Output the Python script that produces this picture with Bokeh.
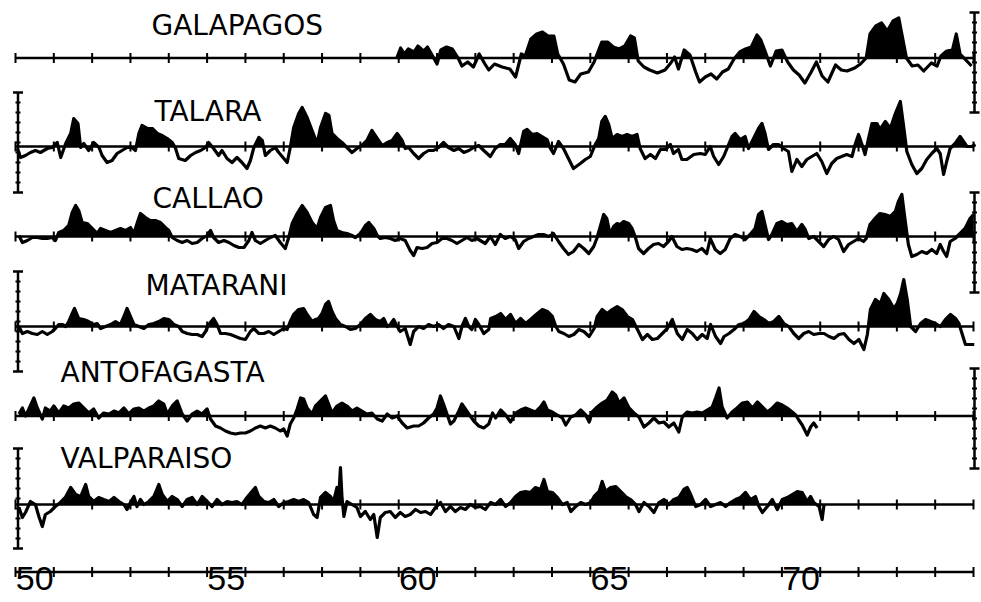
import numpy as np
from bokeh.plotting import figure
from bokeh.models import Range1d
from bokeh.core.properties import value
from bokeh.embed import file_html
from bokeh.resources import INLINE

# Monthly sea level anomalies (cm) along the west coast of South America,
# stored as (decimal year, anomaly) pairs.
GALAPAGOS = [
    (1959.95, 0), (1960.05, 5), (1960.15, 2), (1960.25, 4.5), (1960.4, 3), (1960.5, 6),
    (1960.65, 3.5), (1960.75, 5.5), (1960.9, 0.5), (1961.0, -3), (1961.1, 4), (1961.25, 5.5),
    (1961.4, 4.5), (1961.55, 0), (1961.65, -4), (1961.8, -2), (1961.95, -4.5), (1962.1, 2),
    (1962.25, -3), (1962.35, -6), (1962.5, -3), (1962.7, -4.5), (1962.9, -5.5), (1963.05, -9.5),
    (1963.2, 2), (1963.3, 1), (1963.45, 9.5), (1963.6, 12), (1963.75, 13), (1963.9, 11),
    (1964.05, 11), (1964.15, 2), (1964.3, -3), (1964.45, -11), (1964.6, -12), (1964.75, -8),
    (1964.95, -7), (1965.1, -2), (1965.2, 3), (1965.3, 8), (1965.45, 8), (1965.6, 5.5),
    (1965.75, 4.5), (1965.9, 6), (1966.05, 11), (1966.15, 10), (1966.25, -1.5), (1966.4, -4.5),
    (1966.55, -6), (1966.75, -7.5), (1966.95, -6), (1967.1, -2.5), (1967.2, 0.5), (1967.3, -5.5),
    (1967.45, 4), (1967.6, 1.5), (1967.75, -7), (1967.85, -12), (1968.0, -9.5), (1968.15, -8),
    (1968.3, -10.5), (1968.45, -7), (1968.6, -5.5), (1968.75, -0.5), (1968.9, 3), (1969.05, 4.5),
    (1969.2, 5.5), (1969.35, 11.5), (1969.45, 9), (1969.55, 4), (1969.7, -4), (1969.85, 3.5),
    (1970.0, 4), (1970.15, -2), (1970.3, -6), (1970.45, -8.5), (1970.6, -12.5), (1970.75, -7.5),
    (1970.9, -2), (1971.05, -9), (1971.2, -12), (1971.4, -3.5), (1971.55, -6), (1971.7, -6.5),
    (1971.9, -5), (1972.05, -3), (1972.2, 0), (1972.3, 12), (1972.45, 16), (1972.6, 17.5),
    (1972.75, 13.5), (1972.9, 18.5), (1973.05, 20), (1973.15, 10), (1973.25, 0), (1973.4, -4),
    (1973.55, -3.5), (1973.7, -6.5), (1973.9, -2.5), (1974.05, -4), (1974.15, 1), (1974.3, 3.5),
    (1974.45, 4), (1974.55, 12), (1974.65, 2), (1974.8, -1), (1974.95, -4),
]

TALARA = [
    (1950.05, -1), (1950.13, -5.5), (1950.26, -4.5), (1950.39, -3), (1950.52, -2), (1950.65, -3),
    (1950.83, -1), (1950.96, -0.5), (1951.09, 2), (1951.18, -5.5), (1951.31, 1.5), (1951.44, 6.5),
    (1951.52, 14), (1951.63, 11.5), (1951.7, -0.5), (1951.78, 1.5), (1951.91, -2), (1952.04, 2),
    (1952.18, -0.5), (1952.26, -4.5), (1952.39, -8), (1952.52, -7), (1952.65, -3.5), (1952.78, -2),
    (1952.91, -0.5), (1953.04, -0.5), (1953.13, -2), (1953.22, 6.5), (1953.3, 10.5), (1953.44, 9),
    (1953.57, 9), (1953.7, 6.5), (1953.83, 5.5), (1953.96, 4), (1954.09, 2), (1954.17, -0.5),
    (1954.26, -6), (1954.43, -7), (1954.57, -4.5), (1954.7, -3), (1954.83, -2), (1954.96, -0.5),
    (1955.04, 2), (1955.17, -1), (1955.3, -4.5), (1955.39, -2), (1955.52, -6), (1955.65, -8),
    (1955.78, -5.5), (1955.91, -8), (1956.04, -11), (1956.13, -7), (1956.22, -0.5), (1956.35, 4.5),
    (1956.44, 3), (1956.52, -4.5), (1956.65, -2), (1956.78, -0.5), (1956.87, -3), (1956.98, -5.5),
    (1957.09, -8), (1957.17, -0.5), (1957.26, 9.5), (1957.39, 16.5), (1957.48, 19.5), (1957.61, 14.5),
    (1957.74, 8), (1957.87, 1.5), (1957.96, 9.5), (1958.09, 16.5), (1958.18, 15.5), (1958.26, 6.5),
    (1958.39, 4), (1958.52, 2), (1958.65, -0.5), (1958.78, -3), (1958.91, -1), (1959.04, 0.5),
    (1959.17, 3), (1959.3, 8), (1959.44, 4), (1959.57, 0.5), (1959.7, 2), (1959.83, 3),
    (1959.96, 6.5), (1960.09, 3), (1960.17, -1), (1960.26, -0.5), (1960.39, -3.5), (1960.52, -6),
    (1960.65, -3.5), (1960.78, -2), (1960.91, -2), (1961.04, -0.5), (1961.17, 2), (1961.3, -0.5),
    (1961.44, -2), (1961.57, -1), (1961.7, -3), (1961.83, -2), (1961.96, -0.5), (1962.09, 0.5),
    (1962.22, -2), (1962.39, -5), (1962.52, -1), (1962.65, 1), (1962.78, 1), (1962.91, 4),
    (1963.04, 1), (1963.13, -3.5), (1963.26, 7.5), (1963.35, 8.5), (1963.48, 6), (1963.61, 6.5),
    (1963.74, 5), (1963.87, 3.5), (1963.96, -1), (1964.04, -3.5), (1964.17, 2.5), (1964.3, -1),
    (1964.43, -6), (1964.56, -11), (1964.74, -8.5), (1964.87, -6.5), (1965.0, -5), (1965.13, 1),
    (1965.22, 4), (1965.3, 12.5), (1965.39, 15), (1965.48, 11), (1965.57, 4), (1965.7, 6),
    (1965.83, 5), (1965.96, 6), (1966.09, 5), (1966.22, 6), (1966.3, -1), (1966.43, -6),
    (1966.57, -4), (1966.7, -6), (1966.83, -1.5), (1966.96, -1.5), (1967.09, 1), (1967.17, -3.5),
    (1967.3, -1.5), (1967.39, -6.5), (1967.52, -6.5), (1967.7, -4), (1967.87, -3.5), (1968.0, -4),
    (1968.13, 0), (1968.22, -5), (1968.35, -9), (1968.48, -5), (1968.61, 1), (1968.7, 5),
    (1968.78, 6.5), (1968.91, 3.5), (1969.04, 5), (1969.13, -1), (1969.26, 4), (1969.39, 9),
    (1969.48, 11.5), (1969.56, 6.5), (1969.65, -1.5), (1969.78, 1), (1969.91, 1), (1970.04, -1),
    (1970.17, -2.5), (1970.26, -12.5), (1970.39, -6.5), (1970.52, -10), (1970.65, -6.5), (1970.78, -5),
    (1970.91, -3.5), (1971.04, -7.5), (1971.17, -13.5), (1971.3, -8.5), (1971.43, -6), (1971.56, -5),
    (1971.69, -4), (1971.83, -5), (1971.91, 1), (1972.0, 6), (1972.09, 1), (1972.17, -4),
    (1972.26, 4), (1972.35, 11.5), (1972.48, 11.5), (1972.56, 8.5), (1972.7, 12.5), (1972.83, 9),
    (1972.96, 16.5), (1973.09, 22.5), (1973.17, 11), (1973.26, -2.5), (1973.39, -9), (1973.52, -13.5),
    (1973.65, -11), (1973.78, -6.5), (1973.91, -3.5), (1974.04, -1), (1974.13, -3.5), (1974.22, -14),
    (1974.3, -7.5), (1974.39, -1), (1974.52, 1.5), (1974.65, 5), (1974.74, 2.5), (1974.83, 0),
    (1974.96, 0), (1975.05, 1),
]

CALLAO = [
    (1950.09, 0.5), (1950.18, -3), (1950.31, -2), (1950.44, -0.5), (1950.57, -0.5), (1950.7, -1),
    (1950.83, -1), (1950.96, -0.5), (1951.04, -2), (1951.13, 2), (1951.26, 3), (1951.39, 5.5),
    (1951.48, 12), (1951.57, 15.5), (1951.65, 13), (1951.74, 7), (1951.87, 6.5), (1952.0, 4),
    (1952.13, 1.5), (1952.22, 4), (1952.35, 3), (1952.48, 2), (1952.61, 3), (1952.74, 4),
    (1952.87, 3), (1953.0, 4.5), (1953.09, 1.5), (1953.18, 7), (1953.26, 11.5), (1953.39, 9.5),
    (1953.52, 8), (1953.65, 8), (1953.78, 7), (1953.91, 4.5), (1954.0, 3), (1954.09, -0.5),
    (1954.22, -2), (1954.35, -3), (1954.48, -2), (1954.61, -3.5), (1954.74, -3), (1954.87, -1),
    (1955.0, 0.5), (1955.09, 3), (1955.17, -0.5), (1955.3, -3), (1955.44, -2), (1955.57, -3),
    (1955.7, -4.5), (1955.83, -5.5), (1955.96, -5.5), (1956.09, -2), (1956.17, 2), (1956.26, -2),
    (1956.39, -3.5), (1956.52, -2), (1956.65, -0.5), (1956.78, 0.5), (1956.91, -3), (1957.04, -6),
    (1957.13, -0.5), (1957.22, 6.5), (1957.35, 11.5), (1957.48, 15.5), (1957.61, 12), (1957.74, 7),
    (1957.87, 4), (1957.96, 9.5), (1958.09, 14.5), (1958.22, 15.5), (1958.3, 8), (1958.39, 3),
    (1958.52, 2), (1958.65, 1.5), (1958.78, 0.5), (1958.87, -0.5), (1959.0, 1.5), (1959.13, 5.5),
    (1959.22, 7), (1959.35, 4), (1959.44, 0.5), (1959.52, -1), (1959.65, -0.5), (1959.78, -1),
    (1959.91, -2), (1960.04, -1), (1960.17, -2), (1960.3, -7), (1960.39, -9.5), (1960.48, -5.5),
    (1960.61, -6), (1960.74, -5.5), (1960.87, -3.5), (1961.0, -3), (1961.13, -1), (1961.26, -1),
    (1961.39, -2), (1961.52, -3.5), (1961.65, -2), (1961.78, -0.5), (1961.91, -2), (1962.04, -1),
    (1962.26, -3.5), (1962.39, 0), (1962.52, -4), (1962.65, 1), (1962.78, -1), (1962.91, 0),
    (1963.04, -1.5), (1963.13, -6), (1963.26, -2.5), (1963.39, -1), (1963.52, 0), (1963.65, 1),
    (1963.78, 1), (1963.91, 0), (1964.04, 1.5), (1964.17, -2.5), (1964.3, -6), (1964.43, -9),
    (1964.56, -7.5), (1964.7, -4), (1964.83, -6), (1964.96, -8.5), (1965.09, -5), (1965.17, -1),
    (1965.26, 5), (1965.35, 11), (1965.43, 9), (1965.52, 1), (1965.61, 5), (1965.7, 6.5),
    (1965.78, 6), (1965.87, 7.5), (1966.0, 6.5), (1966.09, 4), (1966.17, 0), (1966.26, -6),
    (1966.39, -8.5), (1966.52, -6), (1966.65, -4), (1966.78, -3.5), (1966.91, -5), (1967.04, -2.5),
    (1967.13, 0), (1967.26, -5), (1967.39, -6.5), (1967.52, -6), (1967.65, -6.5), (1967.78, -7.5),
    (1967.91, -6), (1968.04, -8.5), (1968.13, -1), (1968.26, -6.5), (1968.39, -8.5), (1968.52, -6.5),
    (1968.65, -1), (1968.78, 1), (1968.91, 0), (1969.04, -1.5), (1969.17, 1), (1969.3, 4),
    (1969.39, 11), (1969.48, 12.5), (1969.56, 6), (1969.65, -1.5), (1969.74, 1), (1969.87, 6.5),
    (1970.0, 7.5), (1970.13, 6), (1970.26, 6.5), (1970.39, 2.5), (1970.52, 6), (1970.61, 3.5),
    (1970.7, -1), (1970.83, 0), (1970.96, -2.5), (1971.09, -5), (1971.22, -1.5), (1971.35, 0),
    (1971.48, -1.5), (1971.61, -7.5), (1971.74, -4), (1971.87, -2.5), (1972.0, -1), (1972.13, -2.5),
    (1972.2, -1), (1972.3, 6), (1972.43, 9), (1972.56, 11.5), (1972.69, 11), (1972.83, 10),
    (1972.96, 12.5), (1973.04, 17.5), (1973.13, 21), (1973.22, 7.5), (1973.3, -4), (1973.39, -10),
    (1973.52, -9), (1973.65, -7.5), (1973.78, -8.5), (1973.91, -6.5), (1974.04, -8.5), (1974.13, -4),
    (1974.22, -7.5), (1974.3, -10), (1974.39, -2.5), (1974.52, -1), (1974.65, 1.5), (1974.78, 4),
    (1974.91, 9), (1975.0, 11),
]

MATARANI = [
    (1950.09, 0), (1950.18, -3.5), (1950.31, -2.5), (1950.44, -3.5), (1950.57, -4), (1950.7, -2.5),
    (1950.83, -4), (1950.96, -2.5), (1951.04, -1), (1951.13, 1), (1951.22, 1), (1951.31, 0),
    (1951.39, 2.5), (1951.48, 6.5), (1951.54, 9), (1951.65, 4), (1951.78, 3.5), (1951.91, 2.5),
    (1952.04, 1), (1952.13, 1.5), (1952.22, -1), (1952.35, 0), (1952.48, 1), (1952.61, 2.5),
    (1952.74, 1), (1952.83, 5), (1952.91, 9), (1953.0, 5), (1953.09, 1), (1953.22, 0),
    (1953.35, -1), (1953.48, 1), (1953.61, 1.5), (1953.74, 2.5), (1953.87, 4), (1954.0, 3.5),
    (1954.13, 1), (1954.26, 0), (1954.35, -2.5), (1954.48, -3.5), (1954.61, -4), (1954.74, -4),
    (1954.87, -5), (1954.96, -2.5), (1955.04, 1), (1955.17, 4), (1955.26, 1), (1955.35, -3.5),
    (1955.48, -3.5), (1955.61, -4), (1955.74, -5), (1955.87, -6), (1956.0, -6.5), (1956.13, -2.5),
    (1956.22, -1), (1956.35, -3.5), (1956.48, -3.5), (1956.61, -2.5), (1956.74, -4), (1956.87, -2.5),
    (1957.0, -1), (1957.09, -1.5), (1957.17, 2.5), (1957.26, 6), (1957.39, 8.5), (1957.52, 9),
    (1957.61, 6), (1957.74, 2.5), (1957.83, 3.5), (1957.91, 4), (1958.0, 6.5), (1958.09, 11),
    (1958.17, 12.5), (1958.26, 7.5), (1958.35, 4), (1958.48, 1), (1958.61, 0), (1958.74, -1.5),
    (1958.87, -1), (1959.0, 1), (1959.13, 4), (1959.26, 6), (1959.39, 3.5), (1959.52, 2.5),
    (1959.61, 4), (1959.7, 0), (1959.78, 1), (1959.87, 3.5), (1959.96, 0), (1960.04, -2.5),
    (1960.17, -1), (1960.3, -9), (1960.39, -2.5), (1960.52, 0), (1960.65, -1), (1960.78, 1),
    (1960.91, 0), (1961.04, 1), (1961.17, -1), (1961.3, 1), (1961.44, 0), (1961.57, -6),
    (1961.65, 0), (1961.74, 4), (1961.83, 0), (1961.91, -1.5), (1962.0, 3.5), (1962.09, 1),
    (1962.22, -3.5), (1962.35, -1.5), (1962.4, 4), (1962.53, 5), (1962.66, 6.5), (1962.79, 3.5),
    (1962.92, 6), (1963.05, 1.5), (1963.18, 4), (1963.31, 1.5), (1963.44, 3.5), (1963.62, 6.5),
    (1963.75, 8.5), (1963.88, 7.5), (1964.01, 5), (1964.1, 0), (1964.18, -2.5), (1964.31, -3.5),
    (1964.44, -5), (1964.57, -4), (1964.7, -1.5), (1964.83, -2.5), (1964.97, -5), (1965.1, -1),
    (1965.18, 5), (1965.31, 8.5), (1965.44, 6.5), (1965.57, 8.5), (1965.7, 10), (1965.83, 8.5),
    (1965.97, 5), (1966.1, 3.5), (1966.23, -1.5), (1966.36, -6.5), (1966.49, -4), (1966.62, -6.5),
    (1966.75, -6), (1966.88, -3.5), (1967.01, -1), (1967.14, 3.5), (1967.27, -3.5), (1967.4, -6.5),
    (1967.53, -1.5), (1967.66, -3.5), (1967.79, -6.5), (1967.92, -4), (1968.05, -6), (1968.14, 1),
    (1968.27, -5), (1968.4, -8.5), (1968.49, -5), (1968.62, -3.5), (1968.75, -1.5), (1968.88, 1),
    (1969.01, 1.5), (1969.14, 3.5), (1969.27, 7.5), (1969.4, 5), (1969.53, 3.5), (1969.66, 1.5),
    (1969.79, 2.5), (1969.92, 5), (1970.05, 1.5), (1970.18, 0), (1970.31, -3.5), (1970.44, -6),
    (1970.57, -3.5), (1970.7, -2.5), (1970.83, -4), (1970.97, -3.5), (1971.1, -3.5), (1971.23, -5),
    (1971.36, -6), (1971.49, -4), (1971.62, -3.5), (1971.75, -6.5), (1971.88, -8.5), (1972.01, -6.5),
    (1972.14, -11.5), (1972.23, -4), (1972.31, 8.5), (1972.44, 13.5), (1972.57, 11.5), (1972.66, 16.5),
    (1972.79, 13.5), (1972.92, 9), (1973.01, 11.5), (1973.1, 16.5), (1973.18, 23.5), (1973.27, 13.5),
    (1973.36, 0), (1973.49, -2.5), (1973.62, 1.5), (1973.75, 3.5), (1973.88, 2.5), (1974.01, 1.5),
    (1974.14, 0), (1974.27, 3.5), (1974.4, 6), (1974.53, 4), (1974.62, 1.5), (1974.7, -3.5),
    (1974.79, -9), (1974.92, -9), (1975.02, -9),
]

ANTOFAGASTA = [
    (1950.09, 1), (1950.18, 4), (1950.26, 0), (1950.35, 3.5), (1950.48, 9), (1950.57, 4),
    (1950.7, -1.5), (1950.78, 4), (1950.91, 2.5), (1951.0, 5), (1951.13, 1.5), (1951.26, 5),
    (1951.39, 4), (1951.52, 6), (1951.65, 6.5), (1951.78, 4), (1951.91, 1.5), (1952.04, 3.5),
    (1952.17, -1), (1952.3, 1.5), (1952.44, 1), (1952.57, 2.5), (1952.7, 1.5), (1952.83, 4),
    (1952.96, 1), (1953.09, 3.5), (1953.22, 4), (1953.35, 2.5), (1953.48, 4), (1953.61, 5),
    (1953.74, 7.5), (1953.87, 6), (1953.96, 1), (1954.09, 5), (1954.22, 7.5), (1954.35, 1),
    (1954.48, -2.5), (1954.61, 1), (1954.74, 2.5), (1954.87, 1), (1955.0, 3.5), (1955.09, -1.5),
    (1955.22, -5), (1955.35, -6), (1955.48, -7.5), (1955.61, -8.5), (1955.74, -9), (1955.87, -8.5),
    (1956.0, -8.5), (1956.13, -7.5), (1956.26, -6), (1956.39, -5), (1956.52, -6), (1956.65, -5),
    (1956.78, -6), (1956.91, -7.5), (1957.0, -6.5), (1957.09, -10), (1957.17, -4), (1957.26, -1),
    (1957.35, 3.5), (1957.44, 9), (1957.52, 8.5), (1957.61, 4), (1957.74, 1), (1957.83, 5),
    (1957.96, 7.5), (1958.09, 10), (1958.17, 6), (1958.26, 1.5), (1958.39, 5), (1958.52, 6.5),
    (1958.65, 5), (1958.78, 2.5), (1958.91, 4), (1959.04, 2.5), (1959.17, 1), (1959.3, 1.5),
    (1959.44, -1.5), (1959.57, -2.5), (1959.7, 1), (1959.83, -1), (1959.96, 0), (1960.09, -3.5),
    (1960.22, -6), (1960.39, -5), (1960.52, -5), (1960.65, -3.5), (1960.78, -1), (1960.91, 1),
    (1961.0, 4), (1961.09, 10), (1961.17, 6), (1961.26, 1), (1961.35, -4), (1961.44, -2.5),
    (1961.57, 2.5), (1961.65, 6), (1961.74, 3.5), (1961.83, 1), (1961.96, -2.5), (1962.09, -5),
    (1962.22, -6), (1962.35, -4), (1962.45, 1.5), (1962.53, -1), (1962.66, 3), (1962.79, 0.5),
    (1962.92, -3), (1963.05, 1.5), (1963.18, 3), (1963.31, 4), (1963.44, 3), (1963.57, 2),
    (1963.7, 4.5), (1963.79, 7), (1963.88, 3), (1964.01, 2), (1964.14, 0.5), (1964.27, -1),
    (1964.36, -4.5), (1964.49, -0.5), (1964.62, 0.5), (1964.75, 3), (1964.88, 0.5), (1964.97, -3),
    (1965.05, 2), (1965.18, 4.5), (1965.31, 6.5), (1965.44, 8), (1965.57, 12), (1965.66, 10.5),
    (1965.75, 6.5), (1965.88, 9), (1966.01, 4), (1966.14, 1.5), (1966.27, -0.5), (1966.4, -5.5),
    (1966.53, -3.5), (1966.66, -1), (1966.79, -3.5), (1966.92, -3), (1967.05, -5.5), (1967.18, -3.5),
    (1967.31, -8), (1967.4, -0.5), (1967.53, 2), (1967.66, 1.5), (1967.79, 2), (1967.92, 1.5),
    (1968.05, 3), (1968.18, 4.5), (1968.27, 9), (1968.36, 14), (1968.44, 4.5), (1968.57, -1),
    (1968.7, 2), (1968.83, 4), (1968.97, 6.5), (1969.1, 7), (1969.23, 4), (1969.36, 7),
    (1969.49, 4.5), (1969.62, 2), (1969.75, 4), (1969.88, 6.5), (1970.01, 5.5), (1970.14, 4),
    (1970.27, 2), (1970.36, 0.5), (1970.44, -2), (1970.53, -4.5), (1970.66, -9.5), (1970.75, -5.5),
    (1970.83, -3.5), (1970.92, -6),
]

VALPARAISO = [
    (1950.09, -1.5), (1950.18, -6.5), (1950.26, -4), (1950.39, 1.5), (1950.52, 0), (1950.61, -6),
    (1950.7, -11), (1950.78, -5), (1950.91, -3.5), (1951.04, -1), (1951.17, 1), (1951.3, 3.5),
    (1951.44, 8.5), (1951.57, 5), (1951.7, 4), (1951.83, 10), (1951.91, 4), (1952.04, 1.5),
    (1952.17, 3.5), (1952.3, 2.5), (1952.44, 1.5), (1952.57, 3.5), (1952.7, 1.5), (1952.83, 0),
    (1952.91, -2.5), (1953.0, 1), (1953.09, 4), (1953.17, -1), (1953.26, 2.5), (1953.35, 0),
    (1953.48, 1.5), (1953.61, 4), (1953.74, 10), (1953.83, 5), (1953.96, 1.5), (1954.09, 4),
    (1954.22, 2.5), (1954.35, -1), (1954.48, 2.5), (1954.61, 3.5), (1954.74, 0), (1954.87, 4),
    (1955.0, 1.5), (1955.13, -1), (1955.26, 2.5), (1955.39, 0), (1955.52, 1.5), (1955.65, 1),
    (1955.78, 1.5), (1955.91, 0), (1956.04, 3.5), (1956.17, 6.5), (1956.26, 8.5), (1956.35, 4),
    (1956.48, 1.5), (1956.61, 1), (1956.74, 2.5), (1956.87, -1), (1957.0, 1), (1957.13, 1.5),
    (1957.26, 2.5), (1957.39, 1.5), (1957.52, 2.5), (1957.65, 1), (1957.78, -5), (1957.87, -6.5),
    (1957.96, 3.5), (1958.09, 6), (1958.22, 4), (1958.3, 1.5), (1958.39, 8.5), (1958.44, 5),
    (1958.48, 18.5), (1958.52, 3.5), (1958.57, -6), (1958.65, 1.5), (1958.78, 0), (1958.91, -1.5),
    (1959.0, -6), (1959.13, -3.5), (1959.26, -7.5), (1959.35, -5), (1959.44, -16.5), (1959.52, -6.5),
    (1959.65, -4), (1959.78, -3.5), (1959.91, -6.5), (1960.04, -4), (1960.17, -6), (1960.3, -5),
    (1960.44, -2.5), (1960.57, -4), (1960.7, -3.5), (1960.83, -5), (1960.96, -1.5), (1961.09, 1),
    (1961.22, -3.5), (1961.35, -1), (1961.48, -3.5), (1961.61, -1.5), (1961.74, -2.5), (1961.87, 0),
    (1962.0, -1.5), (1962.13, -1), (1962.26, -2.5), (1962.4, 1), (1962.53, 0), (1962.66, 2.5),
    (1962.79, -1), (1962.92, 1), (1963.05, 4), (1963.18, 6), (1963.31, 6.5), (1963.44, 6),
    (1963.57, 8.5), (1963.7, 7.5), (1963.79, 12.5), (1963.88, 6.5), (1964.01, 6), (1964.14, 3.5),
    (1964.27, 0), (1964.4, 1), (1964.49, -3.5), (1964.62, -1), (1964.75, 1), (1964.88, 0),
    (1965.01, 1), (1965.1, 4), (1965.23, 6.5), (1965.31, 11.5), (1965.4, 6.5), (1965.53, 8.5),
    (1965.66, 9), (1965.79, 6.5), (1965.92, 4), (1966.05, 2.5), (1966.18, 0), (1966.27, -3.5),
    (1966.4, 1), (1966.53, -1), (1966.66, -4), (1966.79, 1), (1966.92, 2.5), (1967.05, 0),
    (1967.18, 2.5), (1967.31, 3.5), (1967.44, 7.5), (1967.53, 8.5), (1967.62, 5), (1967.75, -1),
    (1967.88, 0), (1968.01, 2.5), (1968.14, -1), (1968.27, 0), (1968.4, 1), (1968.53, -1),
    (1968.66, 1), (1968.79, 2.5), (1968.92, 3.5), (1969.05, 6), (1969.18, 2.5), (1969.31, 4),
    (1969.4, -1), (1969.49, -4), (1969.62, -1), (1969.75, 2.5), (1969.88, -2.5), (1970.01, 2.5),
    (1970.14, 3.5), (1970.27, 5), (1970.4, 6.5), (1970.53, 6), (1970.66, 1.5), (1970.75, 4),
    (1970.83, 1), (1970.97, -1), (1971.05, -7.5), (1971.1, 0),
]

STATION_NAMES = ["GALAPAGOS", "TALARA", "CALLAO", "MATARANI", "ANTOFAGASTA", "VALPARAISO"]
STATION_SERIES = [GALAPAGOS, TALARA, CALLAO, MATARANI, ANTOFAGASTA, VALPARAISO]
YEAR_TICKS = list(range(1950, 1976))
YEAR_LABELS = ["50", "55", "60", "65", "70"]
YEAR_LABEL_POS = [1950, 1955, 1960, 1965, 1970]

# ---- layout (the page is mapped so that 1 cm of anomaly = 2 px) ----
PX_PER_YEAR = 38.32
X0 = 1950 - 15 / PX_PER_YEAR
X1 = X0 + 981 / PX_PER_YEAR


def px_x(px):
    return X0 + px / PX_PER_YEAR


def px_y(px):
    return -px / 2.0


BASELINES = [px_y(v) for v in (57.5, 146, 236, 326, 415.5, 504)]
AXIS_Y = px_y(571.5)
# left edge and text-anchor row of each station name
LABEL_POS = [(151, 25), (154, 111), (152, 198), (145, 285), (60, 372), (60, 458)]
BAR_SIDE = ["right", "left", "right", "left", "right", "left"]
BAR_CENTER = [px_y(v) for v in (62, 142, 242, 321, 418, 498)]
BAR_HALF = 25.0  # cm
BAR_STEP = 5.0   # cm

INK = "#000000"

p = figure(width=981, height=602, x_range=Range1d(X0, X1), y_range=Range1d(-301, 0),
           output_backend="svg", toolbar_location=None,
           x_axis_location=None, y_axis_location=None, min_border=0,
           outline_line_color=None, background_fill_color="white",
           border_fill_color="white")
p.grid.visible = False


def positive_part(t, v):
    """Series clipped at zero, with the zero crossings added so the fill ends on the baseline."""
    xs, ys = [t[0]], [max(v[0], 0.0)]
    for i in range(1, len(t)):
        a, b = v[i - 1], v[i]
        if a * b < 0:
            tc = t[i - 1] + (t[i] - t[i - 1]) * (-a) / (b - a)
            xs.append(tc)
            ys.append(0.0)
        xs.append(t[i])
        ys.append(max(b, 0.0))
    return np.array(xs), np.array(ys)


tick_half = px_y(0) - px_y(5)

for name, series, base, (lx, ly), side, bc in zip(
        STATION_NAMES, STATION_SERIES, BASELINES, LABEL_POS, BAR_SIDE, BAR_CENTER):
    t = np.array([s[0] for s in series], dtype=float)
    v = np.array([s[1] for s in series], dtype=float)

    # zero line with yearly ticks
    p.line([1950, 1975], [base, base], line_color=INK, line_width=2.5)
    p.segment(x0=YEAR_TICKS, y0=[base - tick_half] * len(YEAR_TICKS),
              x1=YEAR_TICKS, y1=[base + tick_half] * len(YEAR_TICKS),
              line_color=INK, line_width=2)

    # positive anomalies shaded solid
    fx, fy = positive_part(t, v)
    p.varea(x=fx, y1=np.full(len(fx), base), y2=base + fy, fill_color=INK)
    p.line(t, base + v, line_color=INK, line_width=3.2, line_join="round")

    # station name
    p.text(x=[px_x(lx)], y=[px_y(ly)], text=[name], text_color=INK,
           text_font=value("DejaVu Sans"), text_font_size=value("28px"),
           text_baseline="alphabetic", text_align="left")

    # vertical scale bar
    bx = px_x(974) if side == "right" else px_x(17.5)
    cap = 5 / PX_PER_YEAR
    small = 2.5 / PX_PER_YEAR
    p.line([bx, bx], [bc - BAR_HALF, bc + BAR_HALF], line_color=INK, line_width=2.5)
    p.segment(x0=[bx - cap, bx - cap], y0=[bc - BAR_HALF, bc + BAR_HALF],
              x1=[bx + cap, bx + cap], y1=[bc - BAR_HALF, bc + BAR_HALF],
              line_color=INK, line_width=2.5)
    marks = np.arange(bc - BAR_HALF + BAR_STEP, bc + BAR_HALF - 0.1, BAR_STEP)
    p.segment(x0=np.full(len(marks), bx - small), y0=marks,
              x1=np.full(len(marks), bx + small), y1=marks,
              line_color=INK, line_width=2)

# time axis
p.line([1950, 1975], [AXIS_Y, AXIS_Y], line_color=INK, line_width=2.5)
p.segment(x0=YEAR_TICKS, y0=[AXIS_Y - tick_half] * len(YEAR_TICKS),
          x1=YEAR_TICKS, y1=[AXIS_Y + tick_half] * len(YEAR_TICKS),
          line_color=INK, line_width=2)
p.text(x=[yr + 0.5 for yr in YEAR_LABEL_POS], y=[px_y(578)] * len(YEAR_LABELS),
       text=YEAR_LABELS, text_color=INK, text_font=value("Liberation Sans"),
       text_font_size=value("34px"), text_baseline="alphabetic", text_align="center")

open("out.html", "w").write(file_html(p, INLINE))
